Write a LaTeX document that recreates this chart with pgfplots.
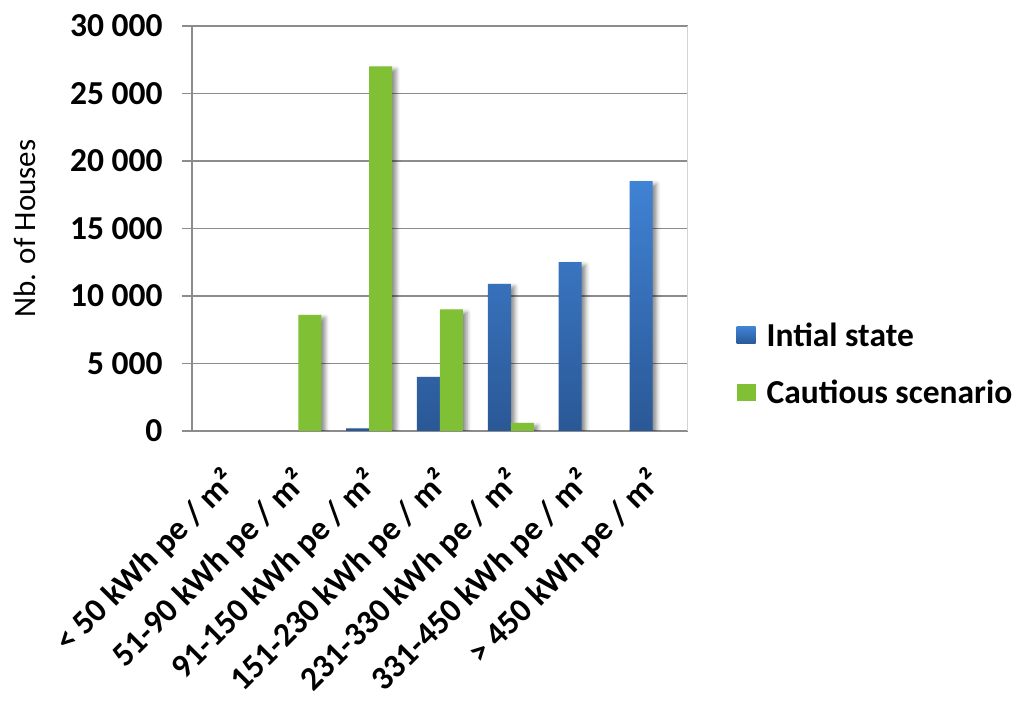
\documentclass[border=0pt]{standalone}
\usepackage{fontspec}
\setmainfont{Carlito}
\usepackage{pgfplots}
\pgfplotsset{compat=1.18}
\usetikzlibrary{shadows.blur}

\definecolor{blueTop}{RGB}{64,130,212}
\definecolor{blueBot}{RGB}{42,88,150}
\definecolor{greenBar}{RGB}{128,192,52}
\definecolor{gridgray}{RGB}{140,140,140}
\definecolor{framegray}{RGB}{212,212,212}

\begin{document}
\begin{tikzpicture}[x=1pt,y=1pt]
\useasboundingbox (0,0) rectangle (1017,701);
\begin{axis}[
  at={(192pt,270pt)}, anchor=south west,
  scale only axis, width=496pt, height=405pt,
  ybar=0pt, bar width=23pt,
  xmin=-0.5, xmax=6.5, ymin=0, ymax=30000,
  ytick={0,5000,...,30000},
  scaled y ticks=false,
  /pgf/number format/.cd, assume math mode=true, 1000 sep={\hspace{0.22em}},
  /pgfplots/.cd,
  xtick={0,...,6},
  xticklabels={{< 50 kWh pe / m²},{51-90 kWh pe / m²},{91-150 kWh pe / m²},{151-230 kWh pe / m²},{231-330 kWh pe / m²},{331-450 kWh pe / m²},{> 450 kWh pe / m²}},
  x tick style={draw=none},
  extra x ticks={-0.5,0.5,...,6.5},
  extra x tick labels={},
  extra x tick style={tick style={draw=gridgray, line width=1.3pt}, major tick length=13pt, tick align=outside, grid=none},
  xticklabel style={yshift=-24pt, xshift=-7pt, rotate=45, anchor=north east, inner sep=0pt},
  ytick style={draw=gridgray, line width=1.3pt},
  major tick length=10pt,
  tick align=outside,
  tick pos=left,
  ymajorgrids,
  grid style={draw=gridgray, line width=1.3pt},
  axis line style={draw=gridgray, line width=1.3pt},
  axis x line*=bottom,
  axis y line*=left,
  ticklabel style={font=\fontsize{33.5}{38}\selectfont\bfseries},
  yticklabel style={xshift=-16pt},
  ylabel={Nb. of Houses},
  ylabel style={at={(-167pt,0.5)}, rotate=0, anchor=center, font=\fontsize{31}{36}\selectfont},
  legend style={at={(1.0977,0.1654)}, anchor=west, draw=none, fill=none,
    font=\fontsize{33.5}{38}\selectfont\bfseries, row sep=32pt, column sep=11pt, inner sep=0pt,
    nodes={inner sep=0pt}},
  legend cell align=left,
]
% right-hand frame line of the plot area
\draw[framegray, line width=1.3pt] (rel axis cs:1,0) -- (rel axis cs:1,1);

\addlegendimage{legend image code/.code={\shade[draw=none, top color=blueTop, bottom color=blueBot] (0pt,-8.5pt) rectangle (19pt,8.5pt);}}
\addlegendentry{Intial state}
\addlegendimage{legend image code/.code={\fill[draw=none, greenBar] (0pt,-8.5pt) rectangle (19pt,8.5pt);}}
\addlegendentry{Cautious scenario}

% Initial state (no houses in the two lowest classes)
\addplot[draw=none, top color=blueTop, bottom color=blueBot,
  blur shadow={shadow xshift=4pt, shadow yshift=-3pt, shadow blur radius=4pt, shadow opacity=45}]
  coordinates {(2,200) (3,4000) (4,10900) (5,12500) (6,18500)};
% Cautious scenario (no houses in the two highest classes)
\addplot[draw=none, fill=greenBar,
  blur shadow={shadow xshift=4pt, shadow yshift=-3pt, shadow blur radius=4pt, shadow opacity=45}]
  coordinates {(1,8600) (2,27000) (3,9000) (4,600)};
\end{axis}
\end{tikzpicture}
\end{document}
